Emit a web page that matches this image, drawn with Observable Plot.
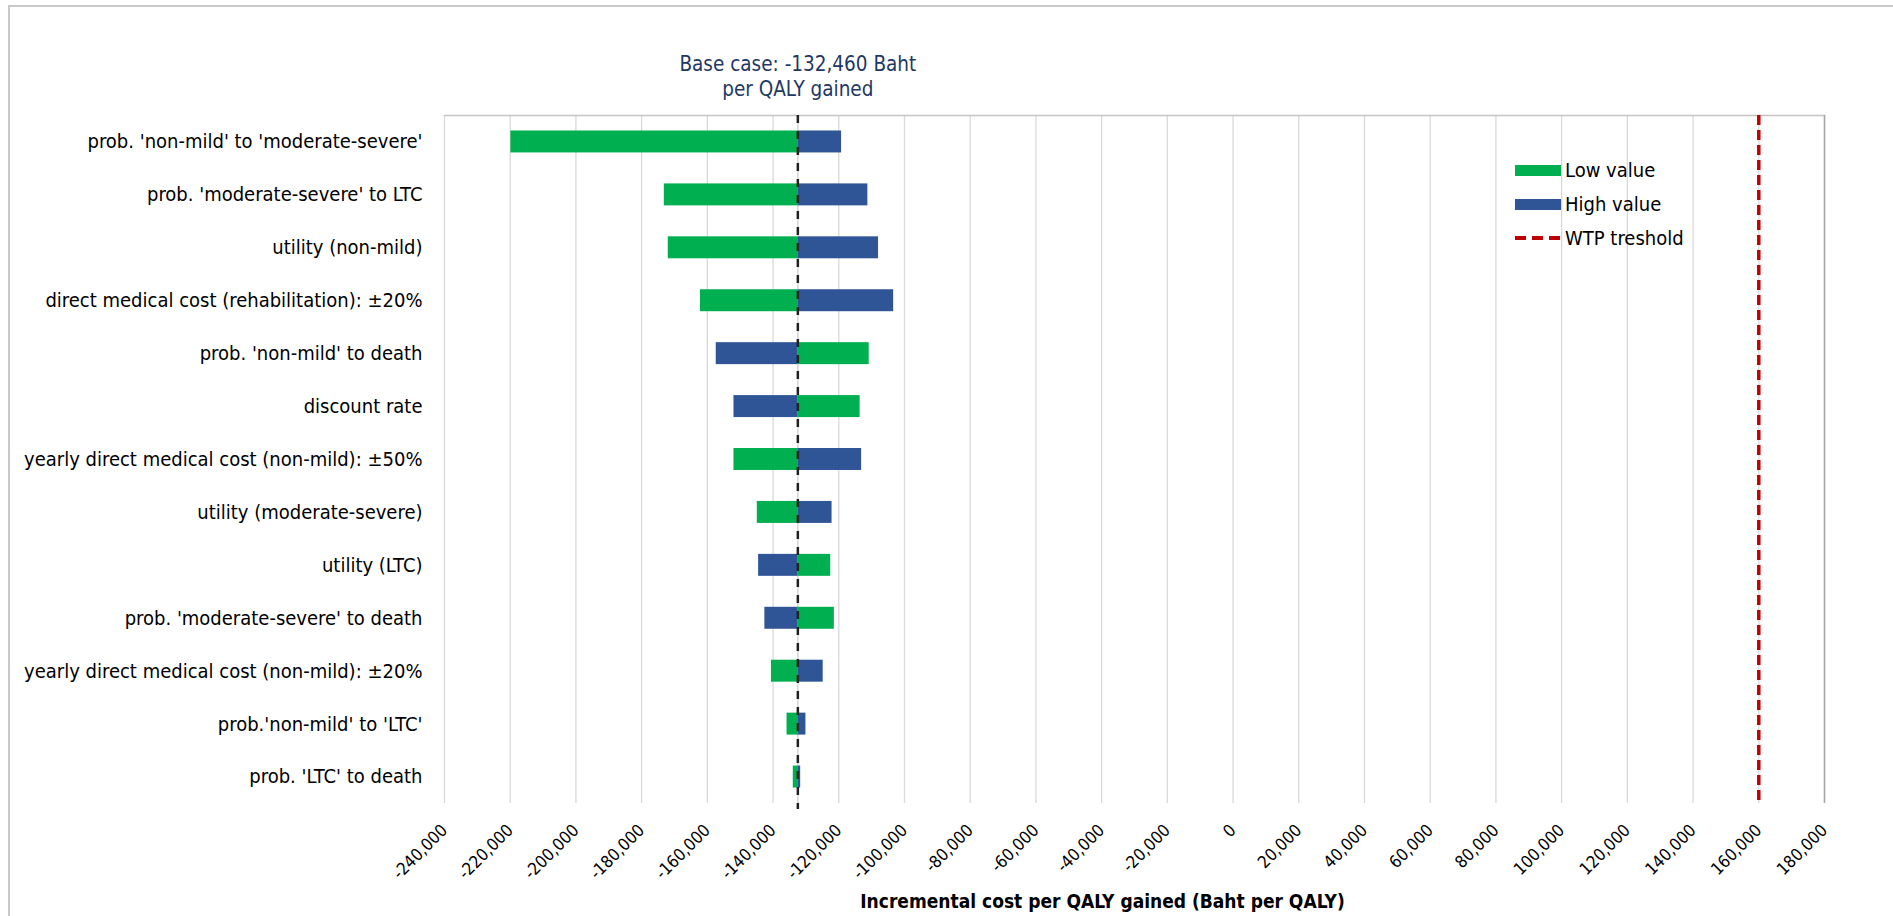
<!DOCTYPE html>
<html>
<head>
<meta charset="utf-8">
<script src="https://cdn.jsdelivr.net/npm/d3@7"></script>
<script src="https://cdn.jsdelivr.net/npm/@observablehq/plot@0.6"></script>
<style>
  body { margin: 0; background: #fff; }
  #wrap { position: relative; width: 1893px; height: 916px; overflow: hidden;
          font-family: "DejaVu Sans Condensed", "DejaVu Sans", sans-serif; }
  #border { position: absolute; left: 8px; top: 5px; width: 2000px; height: 1000px;
            border-left: 2px solid #c9c9c9; border-top: 2px solid #c9c9c9; pointer-events: none; }
  #chart { position: absolute; left: 0; top: 0; }
  .legend { position: absolute; left: 1515px; top: 153px; font-size: 20px; color: #000; }
  .legend .row { display: flex; align-items: center; height: 34px; }
  .legend .sw { width: 46px; height: 11px; margin-right: 4px; }
  .legend .dash { width: 46px; height: 4px; margin-right: 4px;
                  background: repeating-linear-gradient(90deg, #c00000 0 11px, transparent 11px 17px); }
</style>
</head>
<body>
<div id="wrap">
  <div id="border"></div>
  <div id="chart"></div>
  <div class="legend" id="legend"></div>
</div>
<script>
// One-way sensitivity analysis (tornado): ICER per QALY gained, in Baht
const parameters = [
  "prob. 'non-mild' to 'moderate-severe'",
  "prob. 'moderate-severe' to LTC",
  "utility (non-mild)",
  "direct medical cost (rehabilitation): \u00b120%",
  "prob. 'non-mild' to death",
  "discount rate",
  "yearly direct medical cost (non-mild): \u00b150%",
  "utility (moderate-severe)",
  "utility (LTC)",
  "prob. 'moderate-severe' to death",
  "yearly direct medical cost (non-mild): \u00b120%",
  "prob.'non-mild' to 'LTC'",
  "prob. 'LTC' to death"
];
const lowValues = [-219800, -173100, -171900, -162100, -110750, -113500, -151900, -144800, -122450, -121350, -140500, -135750, -133850];
const highValues = [-119150, -111150, -107900, -103300, -157300, -151900, -113050, -122050, -144400, -142500, -124750, -130000, -131600];
const baseCase = -132460;
const wtpThreshold = 160000;
const xTicks = [-240000, -220000, -200000, -180000, -160000, -140000, -120000, -100000, -80000, -60000,
                -40000, -20000, 0, 20000, 40000, 60000, 80000, 100000, 120000, 140000, 160000, 180000];
const seriesNames = ["Low value", "High value", "WTP treshold"];
const seriesColors = ["#00b050", "#2f5597", "#c00000"];
const axisTitle = "Incremental cost per QALY gained (Baht per QALY)";

const fmt = d3.formatLocale({decimal: ".", thousands: ",", grouping: [3], currency: ["", ""], minus: "-"}).format(",");

const rows = parameters.map((p, i) => ({parameter: p, base: baseCase, low: lowValues[i], high: highValues[i]}));

const chart = Plot.plot({
  width: 1893,
  height: 916,
  marginLeft: 444,
  marginRight: 69,
  marginTop: 115,
  marginBottom: 113,
  style: {fontFamily: "'DejaVu Sans Condensed', 'DejaVu Sans', sans-serif", color: "#000", background: "transparent"},
  x: {domain: [xTicks[0], xTicks[xTicks.length - 1]]},
  y: {domain: parameters, paddingInner: 0.585, paddingOuter: 0.2925, round: false},
  marks: [
    Plot.gridX(xTicks, {stroke: "#d9d9d9", strokeOpacity: 1, strokeWidth: 1.3}),
    Plot.frame({anchor: "top", stroke: "#c4c4c4", strokeWidth: 1.5}),
    Plot.ruleX([xTicks[xTicks.length - 1]], {stroke: "#a6a6a6", strokeWidth: 1.5}),
    Plot.ruleX([baseCase], {stroke: "#d0d0d0", strokeWidth: 1.3}),
    Plot.barX(rows, {y: "parameter", x1: "base", x2: "low", fill: seriesColors[0]}),
    Plot.barX(rows, {y: "parameter", x1: "base", x2: "high", fill: seriesColors[1]}),
    Plot.ruleX([baseCase], {stroke: "#222", strokeWidth: 2.5, strokeDasharray: "8,8", insetBottom: -6}),
    Plot.ruleX([wtpThreshold], {stroke: seriesColors[2], strokeWidth: 3.5, strokeDasharray: "10,5"}),
    Plot.text([baseCase], {
      x: d => d, frameAnchor: "top", lineAnchor: "bottom", dy: -20, lineHeight: 1.22,
      text: d => `Base case: ${fmt(d)} Baht\nper QALY gained`, fill: "#1f3864", fontSize: 20.5
    }),
    Plot.axisY({tickSize: 0, tickPadding: 22, fontSize: 20, label: null}),
    Plot.axisX({ticks: xTicks, tickFormat: fmt, tickRotate: -45, tickSize: 0, tickPadding: 24, fontSize: 17, label: null}),
    Plot.text([axisTitle], {frameAnchor: "bottom", dy: 98, dx: -32, fontWeight: "bold", fontSize: 19, lineAnchor: "middle", fill: "#000"})
  ]
});
document.getElementById("chart").appendChild(chart);

// Legend drawn in the upper right of the plot area
const legend = document.getElementById("legend");
seriesNames.forEach((name, i) => {
  const row = document.createElement("div");
  row.className = "row";
  const sw = document.createElement("div");
  if (i < 2) { sw.className = "sw"; sw.style.background = seriesColors[i]; }
  else { sw.className = "dash"; }
  const label = document.createElement("span");
  label.textContent = name;
  row.appendChild(sw);
  row.appendChild(label);
  legend.appendChild(row);
});
</script>
</body>
</html>
